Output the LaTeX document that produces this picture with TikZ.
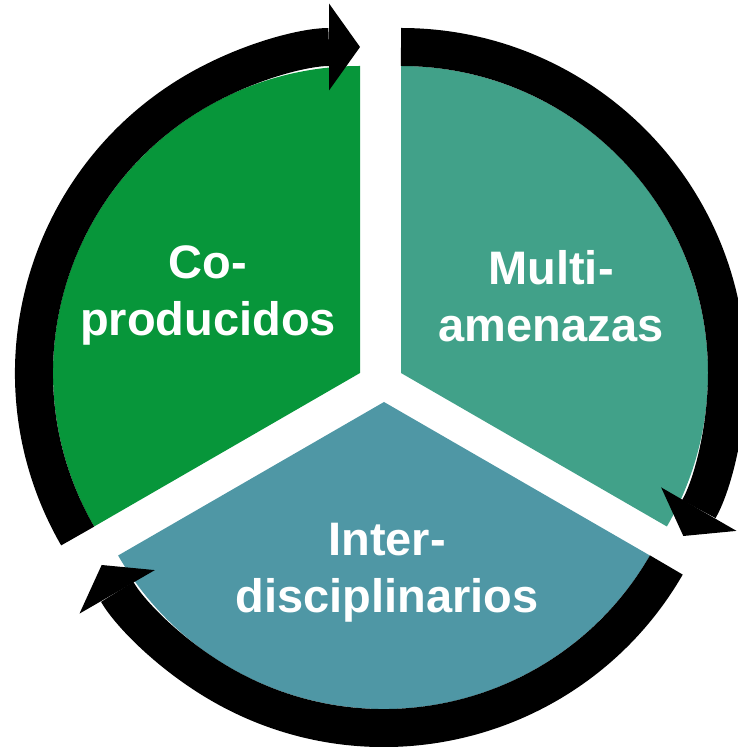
\documentclass[tikz,border=0pt]{standalone}
\usepackage{fontspec}
\setmainfont{Liberation Sans}
\usetikzlibrary{arrows.meta,calc}
\definecolor{verde}{RGB}{7,150,58}
\definecolor{turquesa}{RGB}{65,161,137}
\definecolor{azulado}{RGB}{79,151,165}
\tikzset{
	anillo/.style={line width=38pt, -{Triangle[length=31pt, width=87pt, line width=0pt]}},
	etiqueta/.style={text=white, align=center, font=\bfseries\fontsize{47}{57}\selectfont}
}
\begin{document}
\begin{tikzpicture}[x=1pt, y=1pt]
	\useasboundingbox (0,0) rectangle (738,747);
	\def\r{307} % sector radius
	\def\R{326} % ring radius
	\coordinate (G) at (360,374); % apex of each segment
	\coordinate (T) at (401,374);
	\coordinate (B) at (384,345);
	\fill[verde] (G)--++(90:\r) arc (90:210:\r)--cycle;
	\fill[turquesa] (T)--++(-30:\r) arc (-30:90:\r)--cycle;
	\fill[azulado] (B)--++(210:\r) arc (210:330:\r)--cycle;
	\foreach \c/\a in {G/210, T/90, B/-30}
		\draw[anillo] ($(\c)+(\a:\R)$) arc (\a:\a-120:\R);
	\node[etiqueta] (coprod) at (208,452) {Co-\\producidos};
	\node[etiqueta] (multi) at (551,451) {Multi-\\amenazas};
	\node[etiqueta] (inter) at (387,174) {Inter-\\disciplinarios};
\end{tikzpicture}
\end{document}
